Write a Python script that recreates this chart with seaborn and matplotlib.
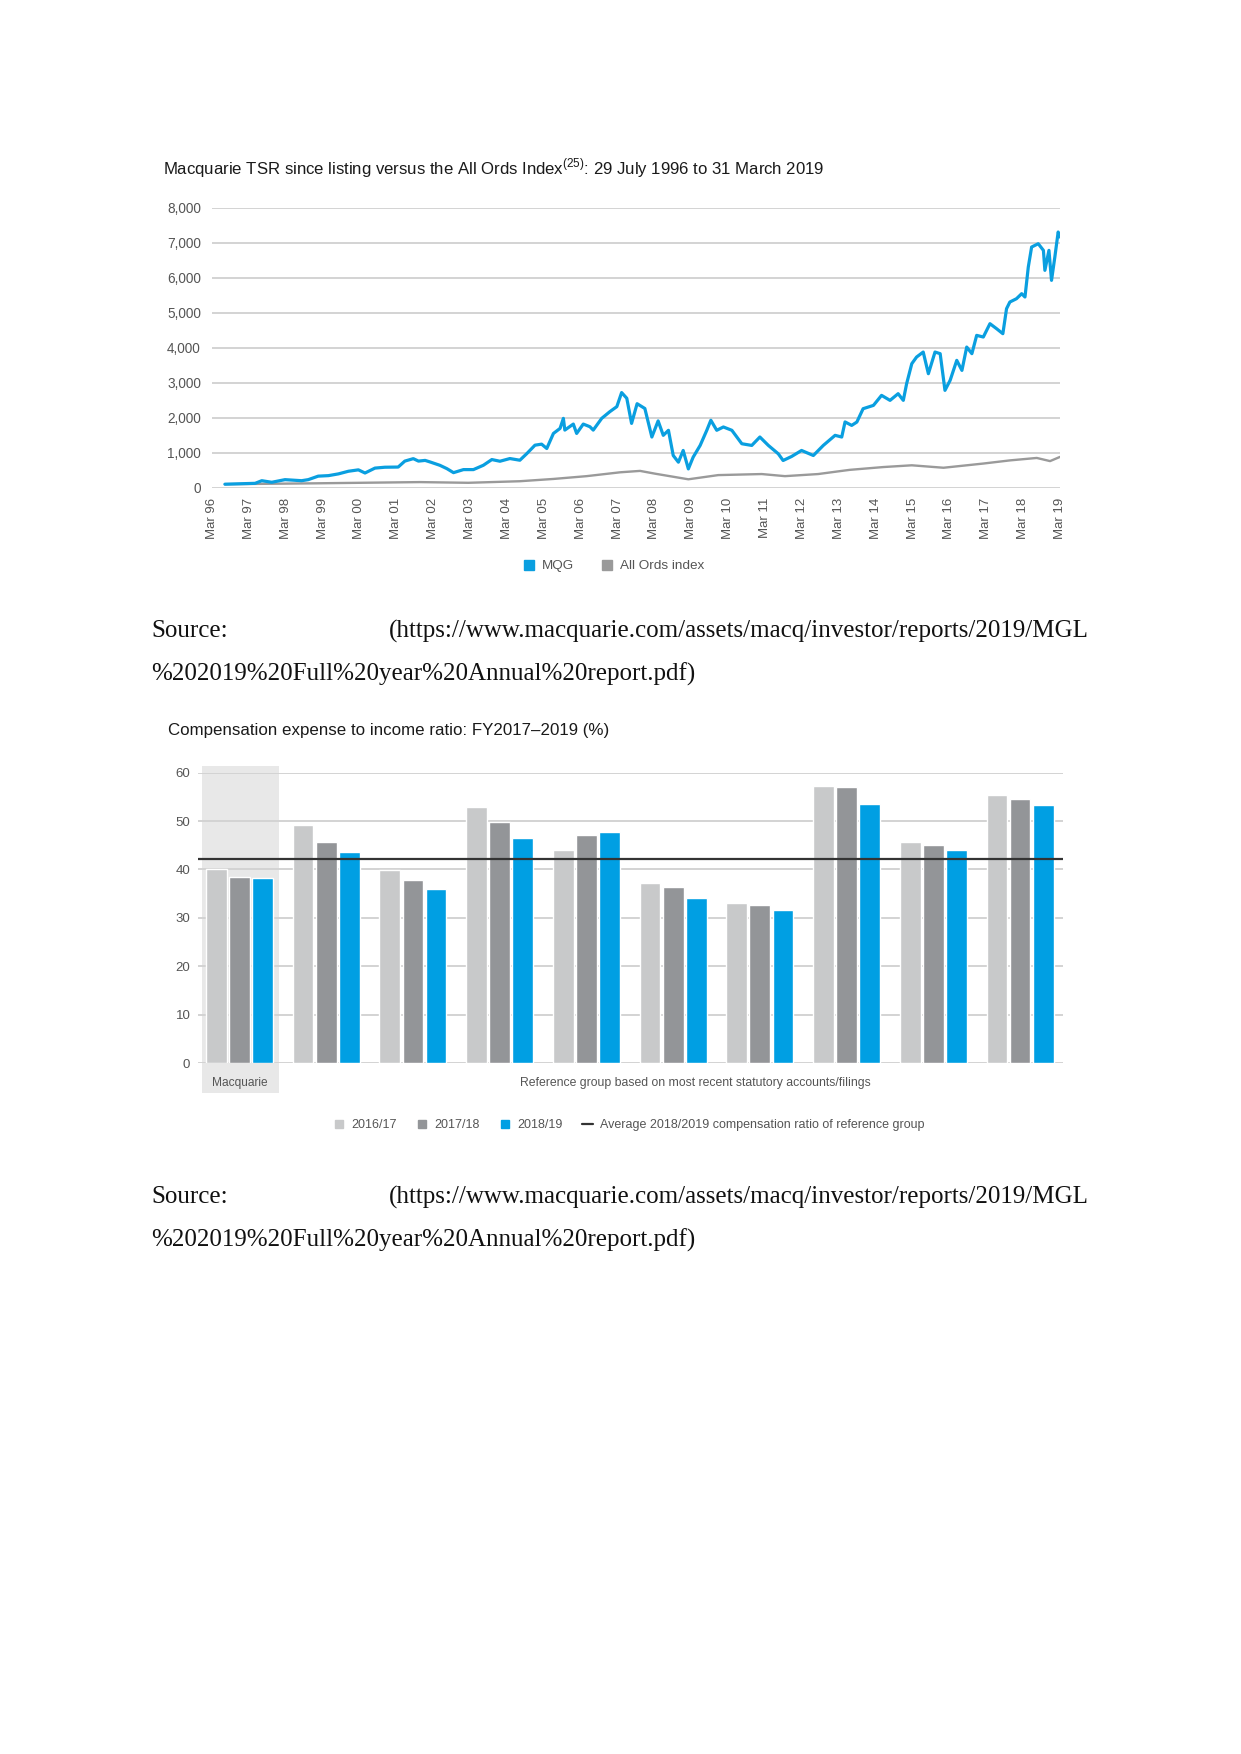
import numpy as np
import pandas as pd
import seaborn as sns
import matplotlib
matplotlib.use("Agg")
from matplotlib import pyplot as plt
from matplotlib.lines import Line2D
from matplotlib.patches import Rectangle

sns.set_style("white")
plt.rcParams["font.family"] = ["Liberation Sans", "DejaVu Sans"]
plt.rcParams["mathtext.fontset"] = "custom"
plt.rcParams["mathtext.rm"] = "Liberation Sans"

# --- chart 1: Macquarie TSR vs All Ords (decimal years, index values) ---
mqg_year = [1996.60, 1997.42, 1997.60, 1997.87, 1998.23, 1998.68, 1998.86, 1999.13,
            1999.41, 1999.68, 1999.95, 2000.22, 2000.40, 2000.67, 2000.94, 2001.30,
            2001.48, 2001.71, 2001.85, 2002.03, 2002.16, 2002.43, 2002.62, 2002.80,
            2003.07, 2003.34, 2003.61, 2003.84, 2004.06, 2004.33, 2004.60, 2004.79,
            2005.01, 2005.19, 2005.33, 2005.51, 2005.69, 2005.78, 2005.82, 2006.05,
            2006.14, 2006.32, 2006.50, 2006.59, 2006.82, 2007.04, 2007.23, 2007.36,
            2007.50, 2007.63, 2007.78, 2007.99, 2008.18, 2008.35, 2008.49, 2008.63,
            2008.76, 2008.90, 2009.03, 2009.17, 2009.30, 2009.49, 2009.67, 2009.78,
            2009.94, 2010.12, 2010.35, 2010.62, 2010.89, 2011.11, 2011.34, 2011.61,
            2011.74, 2011.97, 2012.24, 2012.56, 2012.83, 2013.15, 2013.33, 2013.42,
            2013.60, 2013.74, 2013.91, 2014.19, 2014.41, 2014.64, 2014.86, 2015.00,
            2015.09, 2015.23, 2015.36, 2015.54, 2015.68, 2015.86, 2016.00, 2016.13,
            2016.27, 2016.45, 2016.59, 2016.72, 2016.86, 2016.99, 2017.17, 2017.35,
            2017.53, 2017.70, 2017.80, 2017.89, 2018.07, 2018.21, 2018.30, 2018.39,
            2018.48, 2018.66, 2018.80, 2018.84, 2018.95, 2019.02, 2019.11, 2019.20,
            2019.25]
mqg_value = [100, 125, 200, 155, 230, 200, 230, 330,
             345, 395, 470, 510, 420, 560, 585, 590,
             760, 830, 760, 780, 737, 640, 545, 430,
             517, 517, 641, 804, 756, 833, 785, 976,
             1215, 1244, 1120, 1550, 1694, 1981, 1646, 1818,
             1550, 1818, 1742, 1646, 1981, 2172, 2316, 2718,
             2555, 1837, 2400, 2263, 1448, 1908, 1496, 1640,
             920, 729, 1064, 537, 872, 1208, 1640, 1927,
             1640, 1735, 1640, 1256, 1208, 1448, 1208, 968,
             777, 892, 1064, 920, 1208, 1496, 1448, 1879,
             1780, 1876, 2257, 2352, 2638, 2495, 2686, 2495,
             2971, 3543, 3733, 3876, 3257, 3876, 3829, 2781,
             3067, 3638, 3352, 4019, 3829, 4352, 4305, 4686,
             4543, 4400, 5114, 5305, 5400, 5543, 5448, 6305,
             6876, 6971, 6781, 6210, 6781, 5924, 6590, 7305,
             7162]

aord_year = [1996.60, 1999.04, 2001.89, 2003.20, 2004.60, 2005.51, 2006.41, 2007.32,
             2007.86, 2008.27, 2009.17, 2009.98, 2011.16, 2011.79, 2012.69, 2013.33,
             2013.55, 2014.46, 2015.23, 2016.09, 2017.17, 2017.89, 2018.62, 2018.98,
             2019.25]
aord_value = [100, 125, 160, 140, 185, 250, 330, 440,
              480, 400, 240, 360, 390, 330, 390, 480,
              510, 590, 640, 570, 690, 780, 850, 760,
              880]

tsr_title = "Macquarie TSR since listing versus the All Ords Index$^{(25)}$: 29 July 1996 to 31 March 2019"
tsr_series = ["MQG", "All Ords index"]
tsr_colors = ["#0a9fe0", "#9a9a9a"]
tsr_yticks = [0, 1000, 2000, 3000, 4000, 5000, 6000, 7000, 8000]
tsr_xyears = list(range(1996, 2020))

# --- chart 2: compensation expense to income ratio ---
comp_title = "Compensation expense to income ratio: FY2017\u20132019 (%)"
groups = ["Macquarie", "Peer 1", "Peer 2", "Peer 3", "Peer 4",
          "Peer 5", "Peer 6", "Peer 7", "Peer 8", "Peer 9"]
periods = ["2016/17", "2017/18", "2018/19"]
fy17 = [40.0, 49.2, 39.9, 52.9, 44.0, 37.2, 33.0, 57.3, 45.6, 55.4]
fy18 = [38.5, 45.6, 37.9, 49.9, 47.1, 36.3, 32.6, 57.0, 45.0, 54.5]
fy19 = [38.2, 43.7, 36.0, 46.5, 47.7, 34.2, 31.7, 53.5, 44.0, 53.3]
ref_average = 42.2
comp_colors = ["#c8c9ca", "#939598", "#009fe3"]
avg_label = "Average 2018/2019 compensation ratio of reference group"
ref_label = "Reference group based on most recent statutory accounts/filings"

source_1 = "(https://www.macquarie.com/assets/macq/investor/reports/2019/MGL"
source_2 = "%202019%20Full%20year%20Annual%20report.pdf)"

W, H = 1241, 1754
fig = plt.figure(figsize=(W / 100, H / 100), dpi=100)


def rect(l, t, r, b):
    return [l / W, 1 - b / H, (r - l) / W, (b - t) / H]


grid_c = "#d3d3d3"
tick_c = "#555555"

# ---------------- top chart ----------------
ax1 = fig.add_axes(rect(212, 207.7, 1060, 487.7))
tsr = pd.concat([
    pd.DataFrame({"year": mqg_year, "value": mqg_value, "series": tsr_series[0]}),
    pd.DataFrame({"year": aord_year, "value": aord_value, "series": tsr_series[1]}),
])
sns.lineplot(data=tsr[tsr.series == tsr_series[1]], x="year", y="value",
             color=tsr_colors[1], lw=1.7, estimator=None, ax=ax1, zorder=3)
sns.lineplot(data=tsr[tsr.series == tsr_series[0]], x="year", y="value",
             color=tsr_colors[0], lw=2.3, estimator=None, ax=ax1, zorder=4)
ax1.set_xlim(1996.25, 2019.25)
ax1.set_ylim(0, 8000)
ax1.set_yticks(tsr_yticks)
ax1.set_yticklabels([f"{v:,}" for v in tsr_yticks])
ax1.set_xticks([y + 0.25 for y in tsr_xyears])
ax1.set_xticklabels([f"Mar {y % 100:02d}" for y in tsr_xyears], rotation=90)
ax1.grid(axis="y", color=grid_c, lw=1.4)
ax1.set_axisbelow(True)
for s in ax1.spines.values():
    s.set_visible(False)
ax1.tick_params(axis="y", length=0, pad=8, labelsize=9.8, labelcolor=tick_c)
ax1.tick_params(axis="x", length=0, pad=7, labelsize=9.5, labelcolor=tick_c)
ax1.set_xlabel("")
ax1.set_ylabel("")
fig.text(163 / W, 1 - 168 / H, tsr_title, fontsize=12.1, color="#1a1a1a", va="center")

h1 = [Line2D([], [], ls="", marker="s", ms=6.5, color=c) for c in tsr_colors]
fig.legend(h1, tsr_series, loc="center", bbox_to_anchor=(614 / W, 1 - 566 / H),
           ncol=2, frameon=False, fontsize=9.7, handlelength=0.8, handletextpad=0.6,
           columnspacing=2.0, labelcolor=tick_c)

# ---------------- bottom chart ----------------
ax2 = fig.add_axes(rect(198, 772.7, 1063, 1063))
comp = pd.DataFrame({
    "group": np.repeat(groups, 3),
    "period": periods * len(groups),
    "value": np.ravel(np.column_stack([fy17, fy18, fy19])),
})
ax2.add_patch(Rectangle((-0.432, -6.2), 0.887, 67.5, color="#e8e8e8",
                        zorder=0, clip_on=False, lw=0))
sns.barplot(data=comp, x="group", y="value", hue="period", palette=comp_colors,
            saturation=1, width=0.8, gap=0.1, legend=False, ax=ax2, zorder=2)
ax2.axhline(ref_average, color="#333333", lw=1.6, zorder=4)
ax2.set_xlim(-0.478, 9.495)
ax2.set_ylim(0, 60)
ax2.set_yticks(range(0, 61, 10))
ax2.set_xticks([])
ax2.grid(axis="y", color=grid_c, lw=1.4, zorder=1)
ax2.set_axisbelow(True)
for s in ax2.spines.values():
    s.set_visible(False)
ax2.tick_params(axis="y", length=0, pad=5.5, labelsize=9.5, labelcolor=tick_c)
ax2.set_xlabel("")
ax2.set_ylabel("")
ax2.text(0, -4.2, "Macquarie", ha="center", va="center", fontsize=8.6, color=tick_c)
ax2.text(5.26, -4.2, ref_label, ha="center", va="center", fontsize=8.8, color=tick_c)
fig.text(168 / W, 1 - 731 / H, comp_title, fontsize=12.2, color="#1a1a1a", va="center")

h2 = [Line2D([], [], ls="", marker="s", ms=6, color=c) for c in comp_colors]
h2.append(Line2D([], [], color="#333333", lw=1.6))
fig.legend(h2, periods + [avg_label], loc="center", bbox_to_anchor=(629 / W, 1 - 1125 / H),
           ncol=4, frameon=False, fontsize=9.0, handlelength=0.9, handletextpad=0.6,
           columnspacing=1.5, labelcolor=tick_c)

# ---------------- source lines ----------------
for y1, y2 in [(631, 674), (1197, 1240)]:
    fig.text(151 / W, 1 - y1 / H, "Source:", family="Liberation Serif", fontsize=18,
             va="center", color="#111111")
    fig.text(1089 / W, 1 - y1 / H, source_1, family="Liberation Serif", fontsize=18,
             va="center", ha="right", color="#111111")
    fig.text(151 / W, 1 - y2 / H, source_2, family="Liberation Serif", fontsize=18,
             va="center", color="#111111")

fig.savefig("out.png", dpi=100)
